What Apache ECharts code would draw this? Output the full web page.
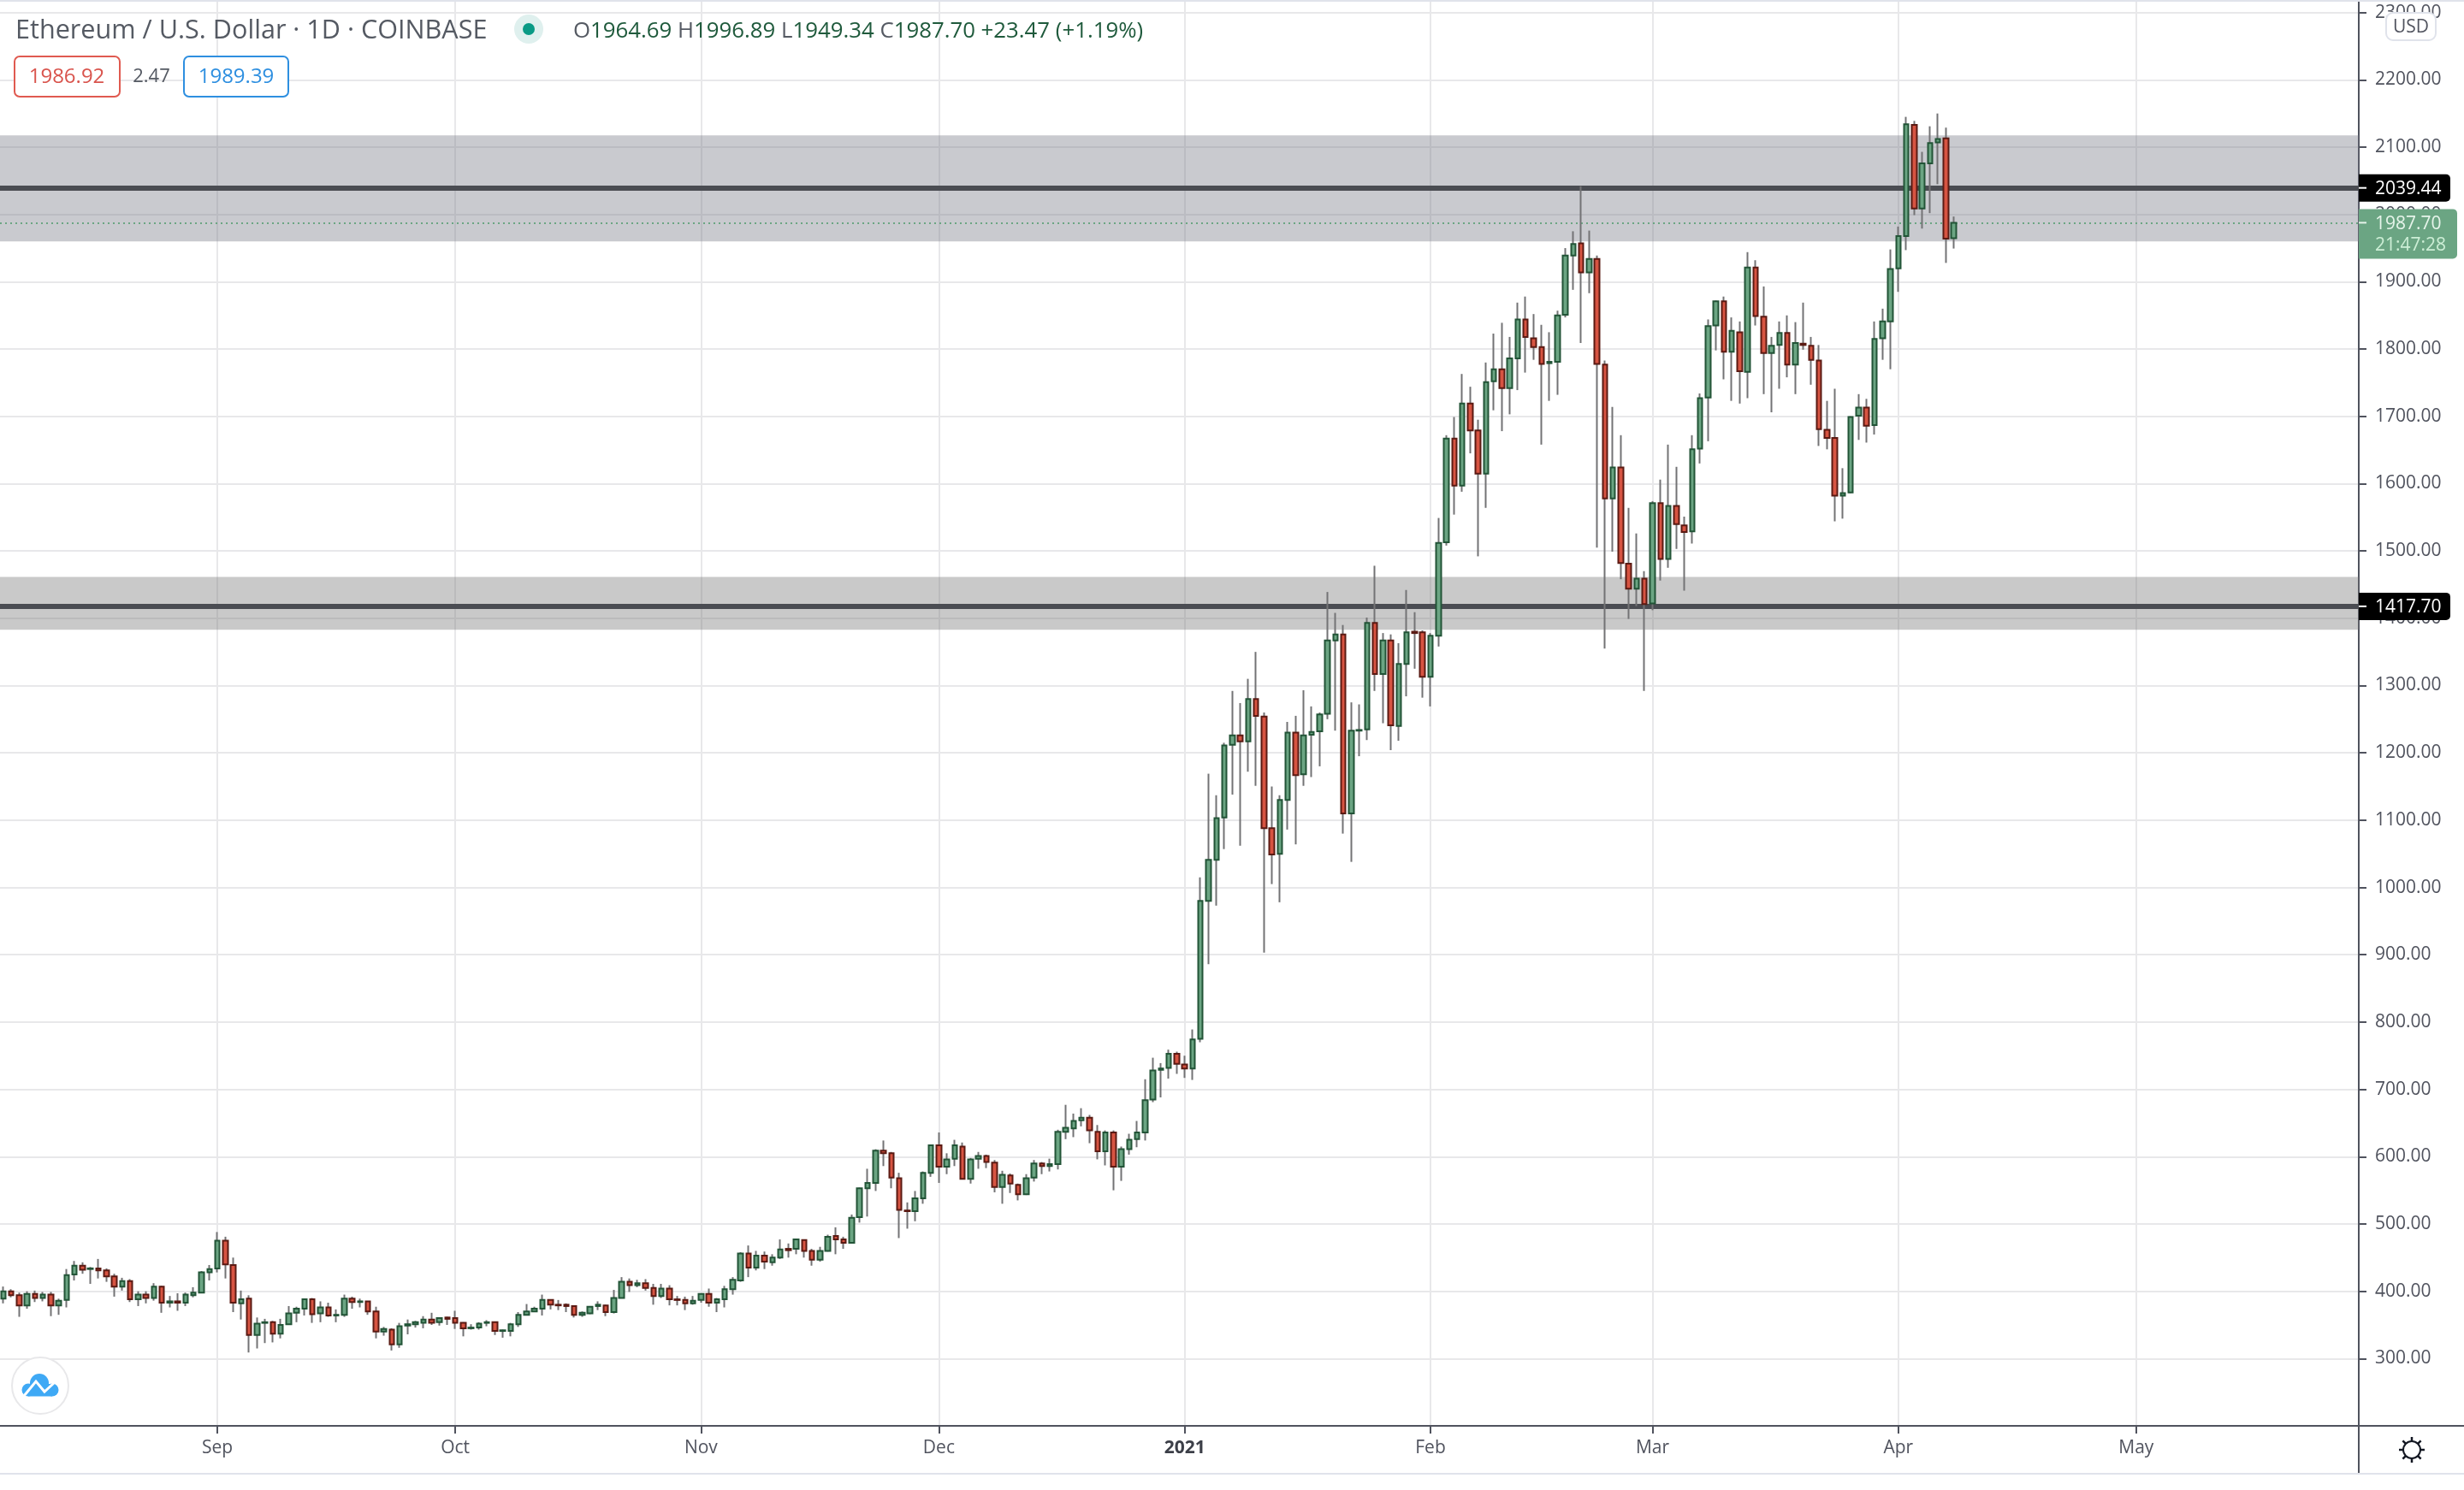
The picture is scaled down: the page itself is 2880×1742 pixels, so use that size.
<!DOCTYPE html>
<html>
<head>
<meta charset="UTF-8">
<title>Ethereum / U.S. Dollar</title>
<script src="https://cdn.jsdelivr.net/npm/echarts@6/dist/echarts.min.js"></script>
<style>
html, body { margin: 0; padding: 0; background: #fff; }
#chart1 { width: 2880px; height: 1742px; }
</style>
</head>
<body>
<div id="chart1"></div>
<script type="text/javascript">
// day numbers count from 1 Sep 2020, first candle is day -27
var firstDay = -27;
var opens = [
389,400,394,379,396,390,395,379,387,425,
438,433,434,431,422,407,415,388,395,390,
407,383,385,383,394,398,428,434,475,439,
382,389,335,353,354,337,351,368,374,388,
367,376,364,365,389,384,385,370,340,343,
321,349,351,353,358,354,361,360,353,345,
346,353,354,341,341,351,365,370,374,387,
380,380,378,365,367,378,379,369,390,414,
409,412,405,393,404,388,387,382,387,396,
383,388,403,416,456,435,453,443,450,463,
463,476,460,447,460,482,477,472,510,553,
561,609,605,568,520,519,538,576,617,585,
597,615,567,597,601,591,555,572,558,544,
569,590,586,589,637,642,654,658,637,608,
636,585,611,626,636,685,729,732,753,737,
731,775,980,1041,1104,1212,1226,1217,1280,1254,
1088,1050,1130,1230,1168,1227,1232,1258,1367,1376,
1110,1233,1235,1393,1317,1367,1240,1332,1380,1379,
1313,1374,1513,1667,1597,1719,1679,1615,1752,1770,
1742,1786,1844,1816,1803,1779,1781,1851,1939,1957,
1914,1934,1777,1578,1624,1481,1444,1459,1422,1571,
1488,1567,1538,1529,1652,1728,1835,1871,1796,1825,
1766,1921,1848,1794,1806,1824,1777,1808,1805,1783,
1680,1668,1582,1587,1701,1713,1687,1816,1841,1920,
1968,2133,2009,2076,2107,2113,1964.69];
var closes = [
400,394,379,396,390,395,379,386,424,438,
432,434,431,422,407,415,388,395,390,407,
383,385,383,395,398,428,433,475,440,383,
388,335,352,354,337,350,367,374,388,366,
376,364,365,389,384,385,370,340,344,321,
348,351,354,358,353,360,359,353,345,346,
352,354,341,342,351,365,370,374,387,380,
379,378,365,368,377,380,369,390,414,409,
412,405,393,404,388,387,382,386,396,383,
388,403,417,456,435,453,444,450,462,461,
477,460,447,460,481,477,472,509,553,561,
609,605,569,521,519,538,576,617,585,596,
617,567,596,601,592,555,573,560,544,568,
590,586,589,637,643,653,658,639,608,636,
585,611,625,636,684,728,731,753,738,731,
774,980,1041,1103,1211,1226,1217,1280,1255,1088,
1049,1130,1230,1167,1226,1231,1257,1367,1376,1110,
1233,1234,1393,1317,1367,1241,1332,1379,1378,1313,
1374,1512,1667,1597,1719,1679,1615,1751,1770,1742,
1786,1844,1818,1803,1778,1781,1850,1939,1956,1914,
1934,1778,1578,1624,1482,1444,1459,1421,1571,1488,
1567,1540,1528,1651,1727,1834,1871,1796,1827,1767,
1921,1849,1794,1805,1824,1777,1809,1806,1784,1681,
1668,1582,1586,1699,1713,1686,1815,1841,1919,1968,
2134,2009,2076,2106,2112,1964,1987.70];
var lows = [
382,391,362,374,384,385,363,365,376,416,
426,411,419,414,392,401,384,378,382,386,
368,376,371,378,391,398,416,428,419,369,
358,309,315,323,324,330,350,354,364,353,
354,362,354,362,374,376,365,330,334,312,
316,336,346,345,350,349,350,344,333,343,
343,348,335,331,333,347,364,369,364,373,
372,369,361,362,366,372,363,367,390,399,
406,401,380,390,379,379,372,380,383,377,
369,376,395,414,421,431,433,438,448,450,
455,450,438,444,459,455,463,471,502,511,
549,586,553,479,493,504,530,570,561,574,
586,566,560,582,583,547,530,546,535,543,
563,574,578,581,626,629,645,620,596,587,
550,564,603,614,624,681,688,716,723,717,
714,770,886,973,1057,1138,1062,1172,1151,903,
1005,978,1086,1064,1151,1164,1180,1250,1233,1080,
1038,1195,1219,1292,1244,1204,1218,1284,1325,1282,
1269,1358,1508,1554,1588,1645,1492,1564,1709,1678,
1703,1739,1765,1784,1658,1723,1732,1847,1888,1809,
1883,1505,1355,1499,1458,1399,1418,1292,1412,1456,
1475,1503,1441,1511,1630,1663,1798,1755,1723,1719,
1727,1835,1733,1706,1741,1758,1733,1799,1747,1656,
1651,1544,1548,1586,1665,1661,1673,1784,1770,1885,
1947,1999,1979,2002,2045,1928,1949.34];
var highs = [
407,403,398,400,401,399,399,389,433,445,
443,436,448,434,426,420,418,400,400,412,
408,393,397,398,406,430,439,488,481,450,
401,394,361,359,356,359,378,377,388,390,
385,383,373,395,392,389,385,377,347,345,
353,358,356,363,368,360,362,371,354,351,
354,357,355,343,353,369,381,377,395,388,
387,382,379,370,378,385,380,402,421,419,
417,418,411,411,409,393,392,393,396,404,
390,408,421,458,468,460,459,455,477,471,
478,477,463,466,484,495,481,514,554,582,
611,624,607,576,532,549,578,617,636,605,
625,621,598,607,603,595,579,575,560,574,
595,592,597,640,677,664,672,662,647,639,
639,615,634,653,715,747,739,759,756,750,
789,1015,1169,1137,1215,1292,1274,1310,1350,1260,
1150,1137,1246,1255,1293,1269,1260,1439,1408,1390,
1275,1272,1401,1478,1378,1376,1363,1442,1409,1382,
1378,1549,1672,1699,1763,1744,1695,1780,1823,1839,
1818,1869,1878,1852,1836,1825,1857,1950,1975,2042,
1976,1939,1783,1714,1672,1564,1526,1470,1574,1606,
1658,1625,1551,1672,1734,1844,1872,1878,1847,1841,
1944,1932,1893,1818,1841,1850,1840,1869,1818,1806,
1723,1741,1623,1700,1733,1726,1841,1860,1948,1982,
2145,2139,2093,2131,2150,2129,1996.89];

var monthDays = [0, 30, 61, 91, 122, 153, 181, 212, 242];
var monthLabels = ['Sep', 'Oct', 'Nov', 'Dec', '2021', 'Feb', 'Mar', 'Apr', 'May'];
var priceTicks = [300,400,500,600,700,800,900,1000,1100,1200,1300,1400,1500,1600,1700,1800,1900,2000,2100,2200,2300];

var upperZone = [1960, 2117.5];
var lowerZone = [1383, 1461.5];
var upperLevel = 2039.44;
var lowerLevel = 1417.70;
var lastClose = 1987.70;

var font = '"Open Sans", sans-serif';
var axisColor = '#50535e';
var textColor = '#50535e';
var gridColor = '#e8e8ea';

var wickData = [], bodyData = [];
for (var i = 0; i < opens.length; i++) {
	var day = firstDay + i;
	wickData.push([day, opens[i], closes[i], lows[i], highs[i]]);
	bodyData.push([day, opens[i], closes[i], Math.min(opens[i], closes[i]), Math.max(opens[i], closes[i])]);
}

var chart1 = echarts.init(document.getElementById('chart1'), null, {renderer: 'canvas'});
var option = {
	animation: false,
	backgroundColor: '#fff',
	grid: {left: 0, right: 123, top: 2, bottom: 75},
	xAxis: {
		type: 'value',
		min: -27.41,
		max: 270.07,
		axisLine: {onZero: false, lineStyle: {color: axisColor, width: 2}},
		axisTick: {customValues: monthDays, length: 9, lineStyle: {color: axisColor, width: 2}},
		axisLabel: {
			customValues: monthDays,
			margin: 16,
			fontFamily: font,
			fontSize: 21,
			color: textColor,
			formatter: function (v) {
				var s = monthLabels[monthDays.indexOf(v)];
				return s === '2021' ? '{y|' + s + '}' : s;
			},
			rich: {y: {fontFamily: font, fontSize: 21, fontWeight: 'bold', color: '#3c3f48'}}
		},
		splitLine: {show: true, lineStyle: {color: gridColor, width: 2}}
	},
	yAxis: {
		type: 'value',
		position: 'right',
		min: 200,
		max: 2316.1,
		axisLine: {show: true, onZero: false, lineStyle: {color: axisColor, width: 2}},
		axisTick: {show: true, customValues: priceTicks, length: 9, lineStyle: {color: axisColor, width: 2}},
		axisLabel: {
			customValues: priceTicks,
			margin: 19,
			padding: [5, 0, 0, 0],
			fontFamily: font,
			fontSize: 21,
			color: textColor,
			formatter: function (v) { return v.toFixed(2); }
		},
		splitLine: {show: true, lineStyle: {color: gridColor, width: 2}}
	},
	series: [{
		// grey wicks, the bodies go on top
		type: 'candlestick',
		data: wickData,
		barWidth: 1,
		silent: true,
		z: 3,
		itemStyle: {color: '#737375', color0: '#737375', borderColor: '#737375', borderColor0: '#737375', borderWidth: 2},
		markArea: {
			silent: true,
			z: 1,
			data: [
				[{yAxis: upperZone[0], itemStyle: {color: 'rgba(120,123,134,0.4)'}}, {yAxis: upperZone[1]}],
				[{yAxis: lowerZone[0], itemStyle: {color: 'rgba(120,120,120,0.4)'}}, {yAxis: lowerZone[1]}]
			]
		},
		markLine: {
			silent: true,
			z: 1,
			symbol: 'none',
			label: {show: false},
			data: [
				{yAxis: upperLevel, lineStyle: {color: '#4a4c52', width: 6, type: 'solid'}},
				{yAxis: lowerLevel, lineStyle: {color: '#4a4c52', width: 6, type: 'solid'}},
				{yAxis: lastClose, lineStyle: {color: '#6ba583', width: 2, type: [2, 4]}}
			]
		}
	}, {
		type: 'candlestick',
		data: bodyData,
		barWidth: 6,
		silent: true,
		z: 4,
		itemStyle: {color: '#6ba583', color0: '#d75442', borderColor: '#225437', borderColor0: '#5b1a13', borderWidth: 2}
	}]
};
chart1.setOption(option);

// price tags and the chart furniture around the plot
function rect(x, y, w, h, fill, stroke, r) {
	return {type: 'rect', z: 100, silent: true, shape: {x: x, y: y, width: w, height: h, r: r || 0},
		style: {fill: fill, stroke: stroke || null, lineWidth: stroke ? 2 : 0}};
}
function line(x1, y1, x2, y2, color, width) {
	return {type: 'line', z: 100, silent: true, shape: {x1: x1, y1: y1, x2: x2, y2: y2},
		style: {stroke: color, lineWidth: width}};
}
function circle(cx, cy, r, fill, stroke) {
	return {type: 'circle', z: 101, silent: true, shape: {cx: cx, cy: cy, r: r},
		style: {fill: fill, stroke: stroke || null, lineWidth: stroke ? 2 : 0}};
}
function text(x, y, str, color, size, align) {
	return {type: 'text', z: 102, silent: true, x: x, y: y,
		style: {text: str, fill: color, font: size + 'px ' + font, textAlign: align || 'left', textVerticalAlign: 'middle'}};
}
function levelTag(level) {
	var y = chart1.convertToPixel({yAxisIndex: 0}, level);
	return [
		rect(2757, y - 16, 107, 32, '#000', null, [0, 5, 5, 0]),
		line(2757, y, 2766, y, '#fff', 2),
		text(2776, y + 1.5, level.toFixed(2), '#fff', 21)
	];
}
var lastY = chart1.convertToPixel({yAxisIndex: 0}, lastClose);
var els = [];
els = els.concat(levelTag(upperLevel), levelTag(lowerLevel));
els.push(
	rect(2757, lastY - 16, 115, 58, '#6ba583', null, [0, 5, 5, 0]),
	line(2757, lastY, 2766, lastY, '#e6f4ea', 2),
	text(2776, lastY + 1.5, lastClose.toFixed(2), '#e6f4ea', 21),
	text(2776, lastY + 27, '21:47:28', '#cdeed6', 21)
);
// frame lines
els.push(
	line(0, 1, 2880, 1, '#e0e3eb', 2),
	line(0, 1723, 2880, 1723, '#e0e3eb', 2),
	line(2757, 1667, 2880, 1667, axisColor, 2),
	line(2757, 1667, 2757, 1722, axisColor, 2)
);
// USD button
els.push(rect(2789, 15, 58, 32, '#fff', '#e0e3eb', 8), text(2818, 32, 'USD', textColor, 21, 'center'));
// header
els.push(
	text(18, 36, 'Ethereum / U.S. Dollar \u00b7 1D \u00b7 COINBASE', '#555a63', 30.6),
	circle(618, 34, 17, '#dff0ee'),
	circle(618, 34, 7, '#0a9a85'),
	{type: 'text', z: 102, silent: true, x: 670, y: 37, style: {
		text: '{l|O}{v|1964.69}  {l|H}{v|1996.89}  {l|L}{v|1949.34}  {l|C}{v|1987.70}  {v|+23.47 (+1.19%)}',
		textVerticalAlign: 'middle',
		rich: {
			l: {fill: '#555a63', fontFamily: font, fontSize: 25.8},
			v: {fill: '#1f5a3c', fontFamily: font, fontSize: 25.8}
		}
	}},
	rect(17, 66, 123, 47, '#fff', '#e05a50', 6),
	text(78, 90, '1986.92', '#d9544d', 24, 'center'),
	text(177, 90, '2.47', '#555a63', 22, 'center'),
	rect(215, 66, 122, 47, '#fff', '#2e8fe0', 6),
	text(276, 90, '1989.39', '#2e8fe0', 24, 'center')
);
// logo, a cloud built from circles with a white zigzag across it
els.push(
	{type: 'circle', z: 100, silent: true, shape: {cx: 47, cy: 1620, r: 33}, style: {fill: '#fff', stroke: '#e8e8ea', lineWidth: 2}},
	circle(46, 1617, 11, '#3fa9f5'),
	circle(33, 1625, 7.5, '#3fa9f5'),
	circle(61, 1625, 7.5, '#3fa9f5'),
	{type: 'rect', z: 101, silent: true, shape: {x: 33, y: 1618, width: 28, height: 14.5}, style: {fill: '#3fa9f5'}},
	{type: 'polyline', z: 102, silent: true, shape: {points: [[28, 1632], [42, 1615], [52, 1627], [63, 1617]]}, style: {stroke: '#fff', lineWidth: 3, fill: null}}
);
// settings gear
els.push(circle(2819, 1695, 10, '#fff', '#131722'));
for (var a = 0; a < 8; a++) {
	var c = Math.cos(a * Math.PI / 4), s = Math.sin(a * Math.PI / 4);
	els.push(line(2819 + 10 * c, 1695 + 10 * s, 2819 + 15 * c, 1695 + 15 * s, '#131722', 2.5));
}
chart1.setOption({graphic: {elements: els}});
</script>
</body>
</html>
